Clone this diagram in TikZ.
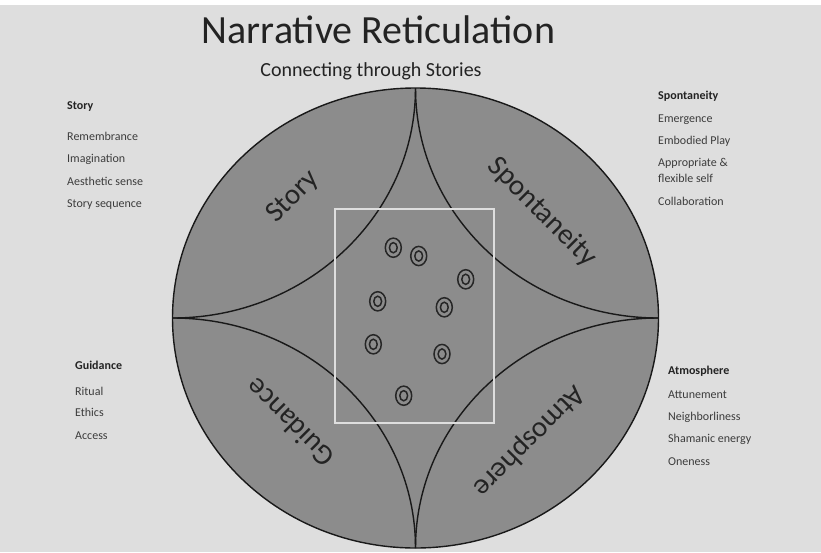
\documentclass[tikz,border=0pt]{standalone}
\usepackage{fontspec}
\setmainfont{Carlito}
\definecolor{bggray}{RGB}{222,222,222}
\definecolor{discgray}{RGB}{140,140,140}
\definecolor{inktext}{RGB}{35,35,35}
\definecolor{sidetext}{RGB}{60,60,60}
\definecolor{boxline}{RGB}{222,222,222}
\begin{document}
\begin{tikzpicture}[x=1pt,y=-1pt,
  outline/.style={draw=black!90, line width=1.4pt},
  ring/.style={draw=black!85, line width=1.5pt},
  sidetxt/.style={anchor=base west, inner sep=0pt, text=sidetext, font=\fontsize{12}{14}\selectfont},
  sidehead/.style={anchor=base west, inner sep=0pt, text=inktext, font=\bfseries\fontsize{12}{14}\selectfont},
  biglabel/.style={inner sep=0pt, text=inktext, font=\fontsize{29}{31}\selectfont}]
\fill[bggray] (0,0) rectangle (821,552);
\useasboundingbox (0,0) rectangle (821,552);
\fill[white] (0,0) rectangle (821,5);
% titles
\node[anchor=base, inner sep=0pt, text=inktext, font=\fontsize{40}{42}\selectfont] (title) at (378.5,43.5) {Narrative Reticulation};
\node[anchor=base, inner sep=0pt, text=inktext, font=\fontsize{20}{22}\selectfont] (subtitle) at (371,76) {Connecting through Stories};
% disc
\fill[discgray] (415.5,318) ellipse [x radius=243pt, y radius=230pt];
\begin{scope}
  \clip (415.5,318) ellipse [x radius=243pt, y radius=230pt];
  \foreach \cx/\cy in {172.5/88, 658.5/88, 172.5/548, 658.5/548}
    \draw[outline] (\cx,\cy) ellipse [x radius=243pt, y radius=230pt];
\end{scope}
\draw[outline] (415.5,318) ellipse [x radius=243pt, y radius=230pt];
% inner box
\draw[boxline, line width=2pt] (335,209) rectangle (494,423);
% rings
\foreach \x/\y in {393.3/247.7, 418.7/256, 465.7/279.3, 377.7/301.3, 444.3/307.3, 373.3/344.3, 442/354, 403.7/395.7}{
  \draw[ring] (\x,\y) ellipse [x radius=8pt, y radius=9.6pt];
  \draw[ring] (\x,\y) ellipse [x radius=3.9pt, y radius=5.1pt];
}
% quadrant labels
\node[biglabel, rotate=45] (lstory) at (293,197) {Story};
\node[biglabel, rotate=-45] (lspont) at (542,212) {Spontaneity};
\node[biglabel, rotate=135] (lguid) at (290,423) {Guidance};
\node[biglabel, rotate=225] (latmo) at (529,441) {Atmosphere};
% side lists
\node[sidehead] (hstory) at (67,109.3) {Story};
\node[sidetxt] (s1) at (67,140.7) {Remembrance};
\node[sidetxt] (s2) at (67,162.7) {Imagination};
\node[sidetxt] (s3) at (67,185) {Aesthetic sense};
\node[sidetxt] (s4) at (67,207.3) {Story sequence};
\node[sidehead] (hspont) at (658,99) {Spontaneity};
\node[sidetxt] (p1) at (658,122.3) {Emergence};
\node[sidetxt] (p2) at (658,144.7) {Embodied Play};
\node[sidetxt] (p3) at (658,166.3) {Appropriate \&};
\node[sidetxt] (p4) at (658,182.3) {flexible self};
\node[sidetxt] (p5) at (658,205.7) {Collaboration};
\node[sidehead] (hguid) at (75,369.3) {Guidance};
\node[sidetxt] (g1) at (75,395) {Ritual};
\node[sidetxt] (g2) at (75,416.7) {Ethics};
\node[sidetxt] (g3) at (75,439) {Access};
\node[sidehead] (hatmo) at (668,374) {Atmosphere};
\node[sidetxt] (a1) at (668,398.3) {Attunement};
\node[sidetxt] (a2) at (668,420.7) {Neighborliness};
\node[sidetxt] (a3) at (668,442.7) {Shamanic energy};
\node[sidetxt] (a4) at (668,465) {Oneness};
\end{tikzpicture}
\end{document}
